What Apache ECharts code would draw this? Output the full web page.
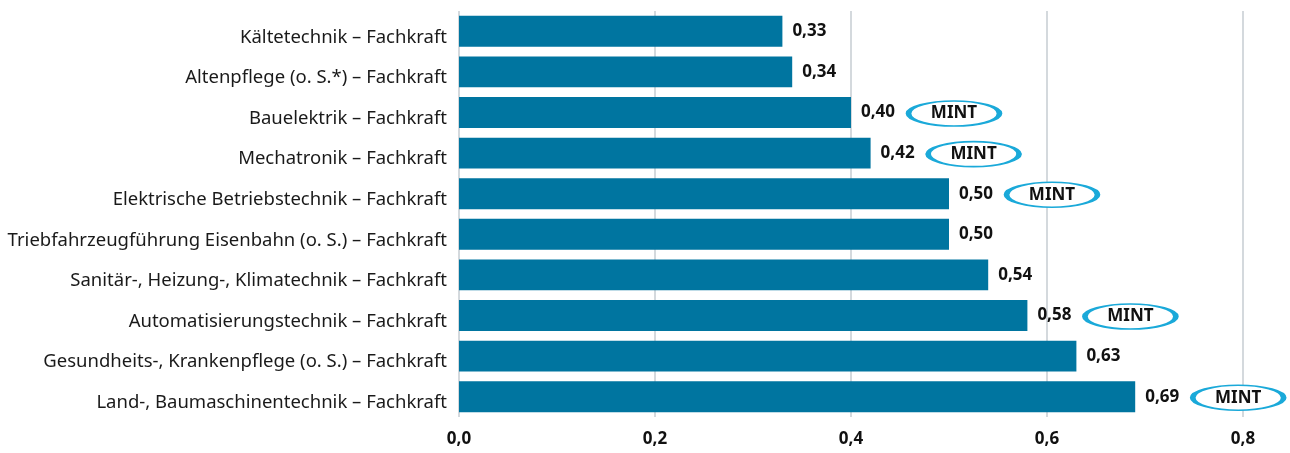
<!DOCTYPE html>
<html>
<head>
<meta charset="utf-8">
<script src="https://cdn.jsdelivr.net/npm/echarts@6/dist/echarts.min.js"></script>
<style>
  html, body { margin: 0; padding: 0; background: #fff; }
  #chart { width: 1290px; height: 453px; }
</style>
</head>
<body>
<div id="chart"></div>
<script>
// Occupations (top to bottom)
const categories = [
  'Kältetechnik – Fachkraft',
  'Altenpflege (o. S.*) – Fachkraft',
  'Bauelektrik – Fachkraft',
  'Mechatronik – Fachkraft',
  'Elektrische Betriebstechnik – Fachkraft',
  'Triebfahrzeugführung Eisenbahn (o. S.) – Fachkraft',
  'Sanitär-, Heizung-, Klimatechnik – Fachkraft',
  'Automatisierungstechnik – Fachkraft',
  'Gesundheits-, Krankenpflege (o. S.) – Fachkraft',
  'Land-, Baumaschinentechnik – Fachkraft'
];
const values = [0.33, 0.34, 0.40, 0.42, 0.50, 0.50, 0.54, 0.58, 0.63, 0.69];
// MINT occupations get a badge
const mint = [false, false, true, true, true, false, false, true, false, true];
const xTicks = [0, 0.2, 0.4, 0.6, 0.8];

const fmt = v => v.toFixed(2).replace('.', ',');
const FONT = '"Noto Sans", "Open Sans", sans-serif';

const chart = echarts.init(document.getElementById('chart'), null, { renderer: 'canvas' });

const mintData = [];
values.forEach((v, i) => { if (mint[i]) mintData.push([v, categories[i]]); });

chart.setOption({
  animation: false,
  grid: { left: 459, right: 47, top: 11, bottom: 36, containLabel: false },
  xAxis: {
    type: 'value',
    min: xTicks[0],
    max: xTicks[xTicks.length - 1],
    interval: 0.2,
    axisLine: { show: false },
    axisTick: { show: false },
    splitLine: { show: true, lineStyle: { color: '#c6ccd2', width: 1.5 } },
    axisLabel: {
      margin: 14,
      color: '#111',
      fontFamily: FONT,
      fontSize: 17,
      fontWeight: 'bold',
      formatter: v => v.toFixed(1).replace('.', ',')
    }
  },
  yAxis: {
    type: 'category',
    data: categories,
    inverse: true,
    axisLine: { show: false },
    axisTick: { show: false },
    axisLabel: {
      margin: 12,
      formatter: v => '{c|' + v + '}',
      rich: {
        c: {
          color: '#1a1a1a',
          fontFamily: FONT,
          fontSize: 18.5,
          padding: [12, 0, 0, 0]
        }
      }
    }
  },
  series: [
    {
      type: 'bar',
      data: values,
      barWidth: '76%',
      itemStyle: { color: '#0075a0' },
      label: {
        show: true,
        position: 'right',
        distance: 10,
        color: '#111',
        fontFamily: FONT,
        fontSize: 17,
        fontWeight: 'bold',
        formatter: p => fmt(p.value)
      }
    },
    {
      type: 'scatter',
      data: mintData,
      clip: false,
      symbol: 'circle',
      symbolSize: [91, 25],
      symbolOffset: [103, 1],
      itemStyle: { color: '#fff', borderColor: '#1aa9d9', borderWidth: 3, opacity: 1 },
      label: {
        show: true,
        position: 'inside',
        color: '#111',
        fontFamily: FONT,
        fontSize: 17,
        fontWeight: 'bold',
        formatter: 'MINT'
      },
      labelLayout: { hideOverlap: false },
      z: 5
    }
  ]
});
</script>
</body>
</html>
